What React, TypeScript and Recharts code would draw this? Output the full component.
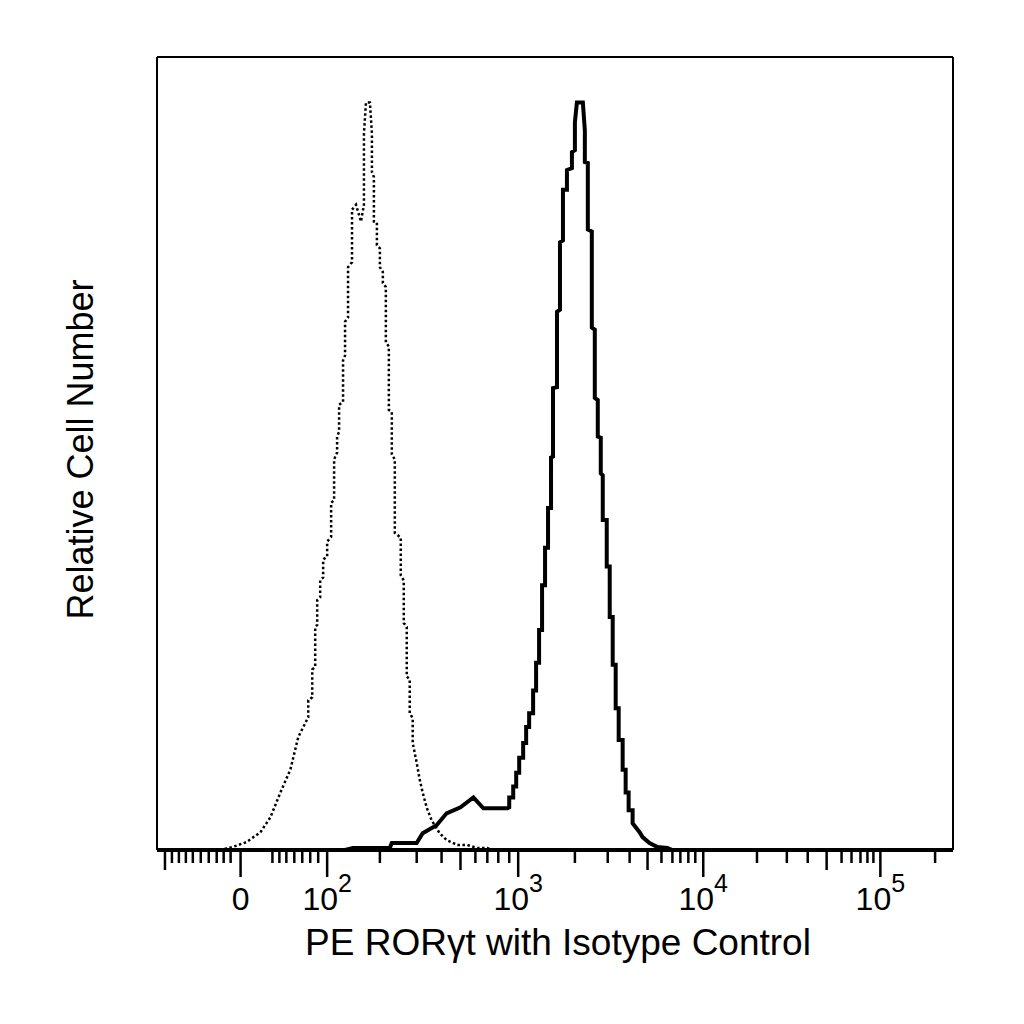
import { LineChart, Line, XAxis, YAxis, ReferenceLine } from 'recharts';

const FONT = '"Liberation Sans", Arial, Helvetica, sans-serif';

// x in display channels (0-800, biexponential scale), y in relative cell count
const ISOTYPE: [number, number][] = [
  [63, 0], [76, 3], [90, 8], [104, 18], [114, 33], [124, 58], [134, 81], [142, 114],
  [152, 134], [152, 151], [156, 154], [156, 182], [159, 185], [159, 225], [161, 227],
  [161, 252], [164, 255], [164, 272], [167, 275], [167, 293], [171, 296], [171, 311],
  [175, 316], [175, 350], [178, 353], [178, 394], [181, 401], [181, 417], [183, 422],
  [183, 449], [187, 452], [187, 494], [189, 499], [189, 533], [192, 537], [192, 588],
  [196, 593], [196, 646], [200, 651], [205, 634], [208, 651], [208, 723], [210, 754],
  [214, 754], [216, 723], [216, 684], [218, 679], [218, 634], [221, 633], [221, 610],
  [224, 607], [224, 588], [227, 583], [227, 572], [230, 568], [230, 512], [233, 508],
  [233, 444], [236, 442], [236, 399], [239, 394], [239, 320], [245, 315], [245, 277],
  [248, 272], [248, 229], [251, 225], [251, 175], [254, 172], [254, 138], [257, 133],
  [257, 108], [261, 88], [264, 71], [267, 58], [271, 43], [276, 30], [284, 17],
  [291, 10], [302, 5], [312, 5], [322, 2], [332, 2], [337, 0],
];

const RORGT: [number, number][] = [
  [189, 0], [197, 2], [234, 2], [236, 7], [261, 7], [267, 17], [281, 25], [291, 37],
  [305, 43], [318, 53], [328, 42], [352, 42], [354, 43], [354, 53], [358, 53], [358, 64],
  [361, 64], [361, 78], [364, 78], [364, 93], [368, 93], [368, 108], [371, 108],
  [371, 124], [374, 124], [374, 138], [378, 138], [378, 161], [381, 161], [381, 189],
  [384, 189], [384, 222], [387, 222], [387, 267], [390, 267], [390, 305], [393, 305],
  [393, 345], [396, 345], [396, 396], [398, 397], [398, 466], [402, 467], [402, 543],
  [405, 545], [405, 613], [408, 615], [408, 666], [412, 666], [412, 686], [417, 688],
  [417, 704], [420, 706], [420, 734], [422, 754], [428, 754], [430, 726], [430, 694],
  [433, 693], [433, 626], [437, 624], [437, 527], [440, 525], [440, 456], [443, 454],
  [443, 417], [446, 416], [446, 380], [448, 378], [448, 333], [452, 333], [452, 286],
  [455, 286], [455, 235], [458, 235], [458, 187], [461, 187], [461, 143], [464, 143],
  [464, 111], [468, 111], [468, 81], [471, 81], [471, 58], [474, 58], [474, 40],
  [478, 40], [478, 27], [485, 18], [488, 13], [495, 7], [503, 3], [513, 2], [518, 0],
];

// axis ticks, in display channels
const MAJOR_TICKS = [84, 171, 363, 549, 727];
const MAJOR_BASE = ['0', '10', '10', '10', '10'];
const MAJOR_EXP = ['', '2', '3', '4', '5'];
const MEDIUM_TICKS = [8, 305, 493, 673];
const MINOR_TICKS = [
  15, 22, 29, 36, 44, 52, 60, 67, 74,
  116, 123, 130, 138, 146, 154, 162,
  224, 261, 286, 320, 332, 343, 354,
  420, 453, 475, 507, 518, 526, 534, 541,
  603, 633, 654, 688, 698, 707, 714, 720,
  782,
];

const ALL_TICKS = [...MAJOR_TICKS, ...MEDIUM_TICKS, ...MINOR_TICKS].sort((a, b) => a - b);

const toRows = (pts: [number, number][]) => pts.map(([ch, count]) => ({ ch, count }));

function renderTick(props: any) {
  const { x, y, payload } = props;
  const v = payload.value;
  const mi = MAJOR_TICKS.indexOf(v);
  const len = mi >= 0 ? 27 : MEDIUM_TICKS.includes(v) ? 20 : 13;
  return (
    <g>
      <line x1={x} x2={x} y1={y} y2={y + len} stroke="#000" strokeWidth={2.5} />
      {mi >= 0 && (
        <text x={x} y={y + 60} textAnchor="middle" fontFamily={FONT} fontSize={32} fill="#000">
          {MAJOR_BASE[mi]}
          {MAJOR_EXP[mi] && (
            <tspan dy={-18} fontSize={25}>
              {MAJOR_EXP[mi]}
            </tspan>
          )}
        </text>
      )}
    </g>
  );
}

function renderXTitle(props: any) {
  const { viewBox } = props;
  const cx = viewBox.x + viewBox.width / 2 + 3;
  return (
    <text x={cx} y={viewBox.y + 105} textAnchor="middle" fontFamily={FONT} fontSize={37} fill="#000">
      PE RORγt with Isotype Control
    </text>
  );
}

function renderYTitle(props: any) {
  const { viewBox } = props;
  const x = viewBox.x + viewBox.width - 64;
  const y = viewBox.y + viewBox.height / 2 - 4;
  return (
    <text
      x={x}
      y={y}
      transform={`rotate(-90, ${x}, ${y})`}
      textAnchor="middle"
      fontFamily={FONT}
      fontSize={36}
      fill="#000"
    >
      Relative Cell Number
    </text>
  );
}

export default function App() {
  return (
    <LineChart width={1016} height={1000} margin={{ top: 49, right: 71, left: 69, bottom: 58 }}>
      <XAxis
        dataKey="ch"
        type="number"
        domain={[0, 800]}
        ticks={ALL_TICKS}
        interval={0}
        tickLine={false}
        tickSize={0}
        tickMargin={0}
        tick={renderTick}
        height={100}
        axisLine={{ stroke: '#000', strokeWidth: 4 }}
        label={renderXTitle}
      />
      <YAxis
        type="number"
        domain={[0, 800]}
        width={80}
        tick={false}
        tickLine={false}
        axisLine={{ stroke: '#000', strokeWidth: 2 }}
        label={renderYTitle}
      />
      <ReferenceLine y={800} stroke="#000" strokeWidth={2} />
      <ReferenceLine x={800} stroke="#000" strokeWidth={2} />
      <Line
        data={toRows(ISOTYPE)}
        dataKey="count"
        type="linear"
        stroke="#000"
        strokeWidth={2.5}
        strokeDasharray="2.5 2.5"
        dot={false}
        activeDot={false}
        isAnimationActive={false}
      />
      <Line
        data={toRows(RORGT)}
        dataKey="count"
        type="linear"
        stroke="#000"
        strokeWidth={4}
        dot={false}
        activeDot={false}
        isAnimationActive={false}
      />
    </LineChart>
  );
}
